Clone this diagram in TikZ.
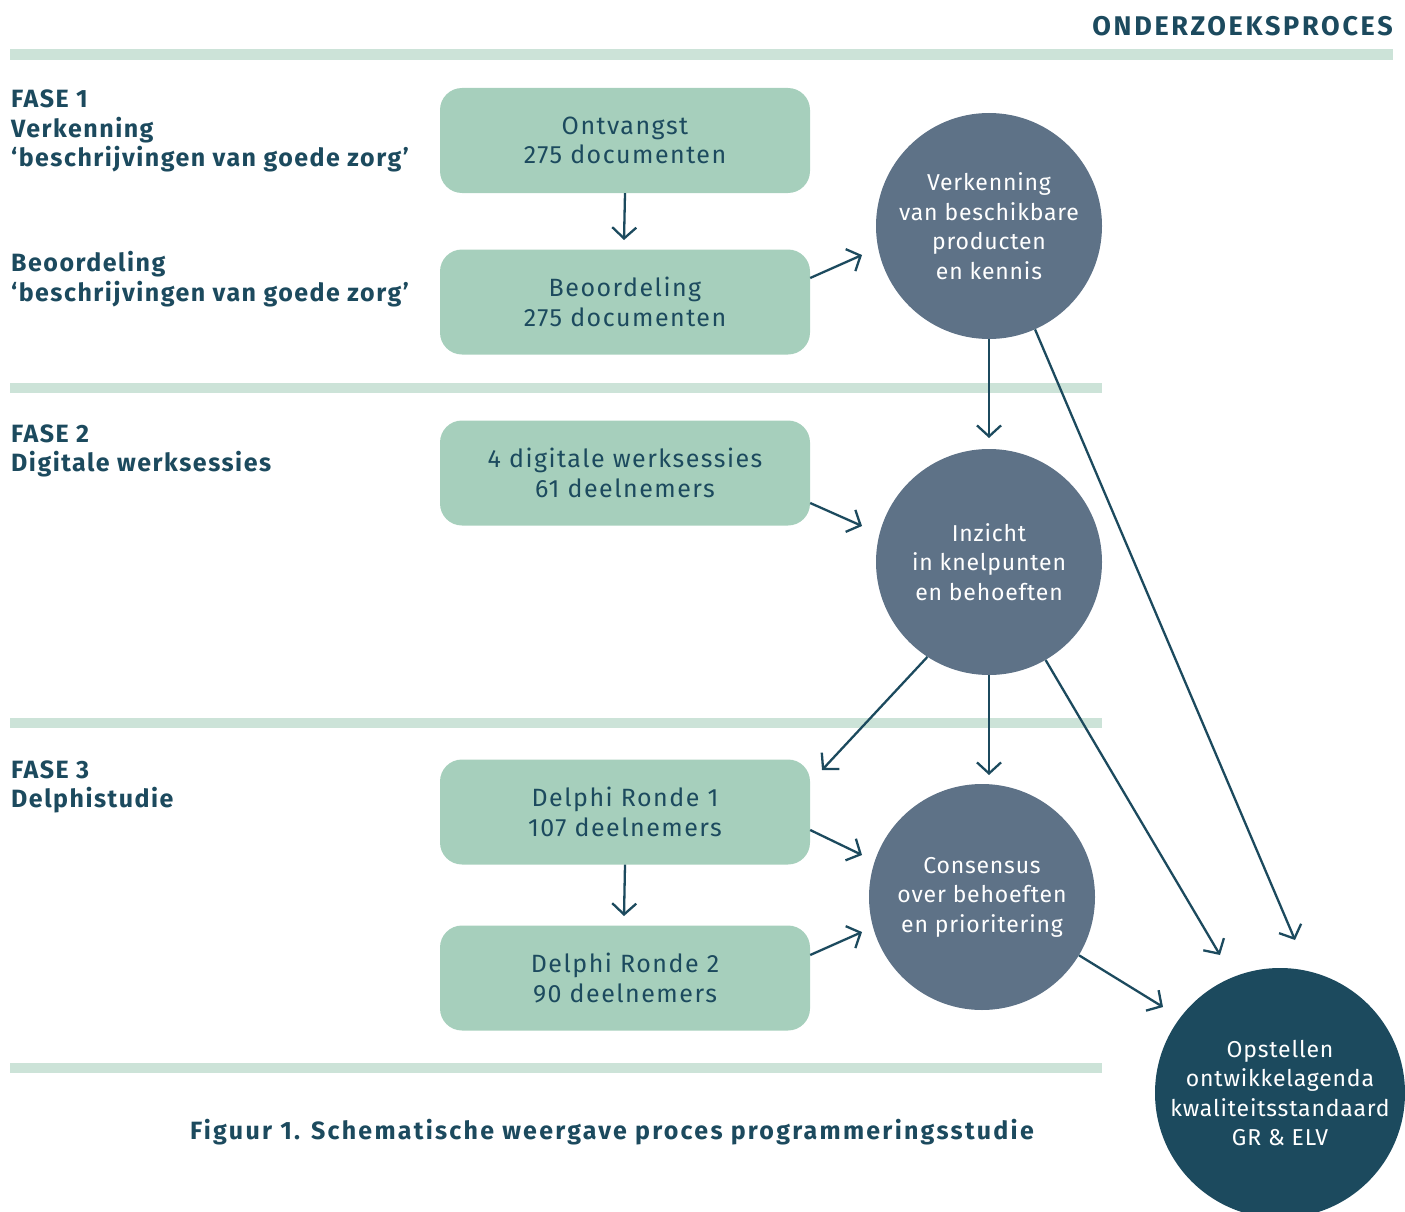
\documentclass[tikz,border=0pt]{standalone}
\usepackage{fontspec}
\setmainfont{Fira Sans}[LetterSpace=6]
\newfontfamily\circfont{Fira Sans}[LetterSpace=3.5]
\newfontfamily\hdrfont{Fira Sans}[LetterSpace=10]
\newfontfamily\capfont{Fira Sans}[LetterSpace=9]
\usetikzlibrary{arrows.meta}
\definecolor{bandc}{HTML}{CCE3D8}
\definecolor{boxc}{HTML}{A6CFBC}
\definecolor{circc}{HTML}{5E7287}
\definecolor{darkc}{HTML}{1C4A5E}
\begin{document}
\begin{tikzpicture}[x=1pt,y=-1pt,
  bandstyle/.style={fill=bandc, draw=none},
  stepbox/.style={fill=boxc, rounded corners=22pt, minimum width=370pt, minimum height=105pt, inner sep=0pt, align=center, text=darkc, font=\fontsize{25}{29.5}\selectfont},
  midcirc/.style={circle, fill=circc, minimum size=226pt, inner sep=0pt, align=center, text=white, font=\circfont\fontsize{23}{29.5}\selectfont},
  endcirc/.style={circle, fill=darkc, minimum size=250pt, inner sep=0pt, align=center, text=white, font=\circfont\fontsize{23}{29.5}\selectfont},
  lbl/.style={anchor=west, align=left, inner sep=0pt, text=darkc, font=\fontsize{25}{29.5}\selectfont\bfseries},
  arr/.style={draw=darkc, line width=2.3pt, -{Straight Barb[length=11pt, width=24pt]}}
]
\useasboundingbox (0,0) rectangle (1405,1212);
\clip (0,0) rectangle (1405,1212);

% bands
\fill[bandstyle] (10,49) rectangle (1393,60);
\fill[bandstyle] (10,383) rectangle (1102,393);
\fill[bandstyle] (10,718) rectangle (1102,728);
\fill[bandstyle] (10,1063) rectangle (1102,1073);

% header
\node[anchor=east, inner sep=0pt, text=darkc, font=\hdrfont\fontsize{27}{30}\selectfont\bfseries] (hdr) at (1393,26) {ONDERZOEKSPROCES};

% left labels
\node[lbl] (l1) at (11,131) {FASE 1\\Verkenning\\‘beschrijvingen van goede zorg’};
\node[lbl] (l2) at (11,279) {Beoordeling\\‘beschrijvingen van goede zorg’};
\node[lbl] (l3) at (11,451) {FASE 2\\Digitale werksessies};
\node[lbl] (l4) at (11,787) {FASE 3\\Delphistudie};

% boxes
\node[stepbox] (b1) at (625,140.5) {Ontvangst\\275 documenten};
\node[stepbox] (b2) at (625,302) {Beoordeling\\275 documenten};
\node[stepbox] (b3) at (625,473) {4 digitale werksessies\\61 deelnemers};
\node[stepbox] (b4) at (625,812) {Delphi Ronde 1\\107 deelnemers};
\node[stepbox] (b5) at (625,978) {Delphi Ronde 2\\90 deelnemers};

% circles
\node[midcirc] (c1) at (989,226) {Verkenning\\van beschikbare\\producten\\en kennis};
\node[midcirc] (c2) at (989,562) {Inzicht\\in knelpunten\\en behoeften};
\node[midcirc] (c3) at (982,897) {Consensus\\over behoeften\\en prioritering};
\node[endcirc] (c4) at (1280,1093) {Opstellen\\ontwikkelagenda\\kwaliteitsstandaard\\GR \& ELV};

% caption
\node[inner sep=0pt, text=darkc, font=\capfont\fontsize{25}{28}\selectfont\bfseries] (cap) at (612,1132) {Figuur 1. Schematische weergave proces programmeringsstudie};

% arrow end points
\coordinate (e1) at (624,240);
\coordinate (e2) at (862,255);
\coordinate (e3) at (989,438);
\coordinate (e4) at (1295,940);
\coordinate (e5) at (862,526);
\coordinate (e6) at (822,770);
\coordinate (e7) at (989,775);
\coordinate (e8) at (1220,955);
\coordinate (e9) at (862,855);
\coordinate (e10) at (624,916);
\coordinate (e11) at (862,932);
\coordinate (e12) at (1163,1007);

% arrows
\draw[arr] (b1.south) -- (e1);
\draw[arr] (b2.east |- 0,278) -- (e2);
\draw[arr] (c1.south) -- (e3);
\draw[arr] (c1.-66) -- (e4);
\draw[arr] (b3.east |- 0,503) -- (e5);
\draw[arr] (c2.-123) -- (e6);
\draw[arr] (c2.south) -- (e7);
\draw[arr] (c2.-60) -- (e8);
\draw[arr] (b4.east |- 0,830) -- (e9);
\draw[arr] (b4.south) -- (e10);
\draw[arr] (b5.east |- 0,955) -- (e11);
\draw[arr] (c3.-31) -- (e12);
\end{tikzpicture}
\end{document}
